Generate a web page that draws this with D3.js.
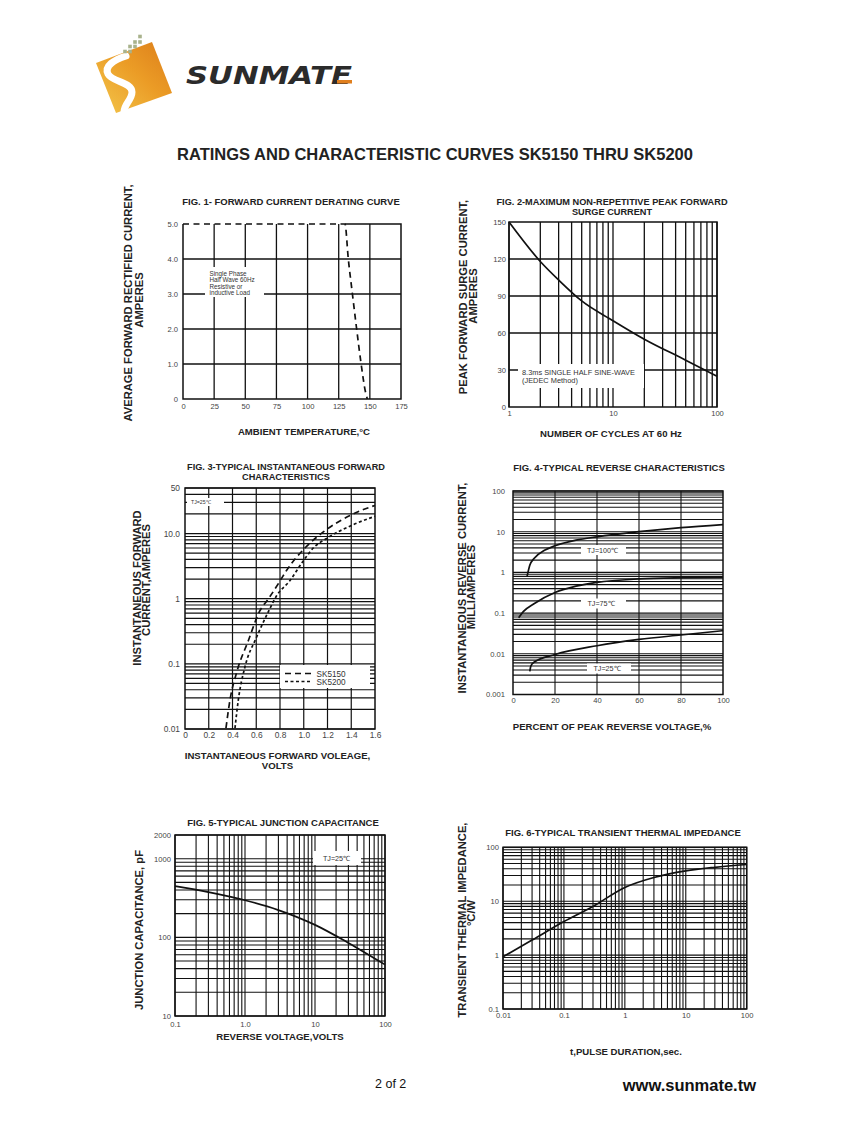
<!DOCTYPE html>
<html>
<head>
<meta charset="utf-8">
<script src="https://cdn.jsdelivr.net/npm/d3@7"></script>
<style>
  body { margin: 0; background: #fff; }
</style>
</head>
<body>
<div id="page"></div>
<script>
// ---- data ----
// Fig 1 derating
const f1Temp = [0, 130, 132.7, 136, 139.4, 143, 146.5, 148];
const f1Amps = [5, 5, 4, 3, 2, 1, 0.2, 0];
const f1XTicks = [0, 25, 50, 75, 100, 125, 150, 175];
const f1YTicks = [0, 1, 2, 3, 4, 5];
const f1YLabels = ['0', '1.0', '2.0', '3.0', '4.0', '5.0'];

// Fig 2 surge current
const f2Cycles = [1, 2, 3, 5, 10, 20, 50, 100];
const f2Amps = [150, 118, 103, 86, 70, 55, 38, 25];
const f2XTicks = [1, 10, 100];
const f2YTicks = [0, 30, 60, 90, 120, 150];

// Fig 3 forward characteristics
const f3V5150 = [0.345, 0.379, 0.435, 0.533, 0.63, 0.70, 0.80, 0.856, 1.01, 1.165, 1.417, 1.6];
const f3I5150 = [0.0103, 0.028, 0.074, 0.226, 0.65, 0.98, 1.87, 2.73, 6.0, 10.6, 20, 27];
const f3V5200 = [0.421, 0.449, 0.505, 0.60, 0.70, 0.77, 0.884, 0.996, 1.08, 1.193, 1.417, 1.6];
const f3I5200 = [0.0103, 0.028, 0.09, 0.25, 0.62, 1.1, 1.9, 3.8, 6.0, 8.4, 13.7, 18.4];
const f3XTicks = [0, 0.2, 0.4, 0.6, 0.8, 1.0, 1.2, 1.4, 1.6];
const f3XLabels = ['0', '0.2', '0.4', '0.6', '0.8', '1.0', '1.2', '1.4', '1.6'];
const f3YTicks = [0.01, 0.1, 1, 10, 50];
const f3YLabels = ['0.01', '0.1', '1', '10.0', '50'];

// Fig 4 reverse characteristics
const f4P100 = [6.7, 8, 10, 15, 20, 30, 40, 60, 80, 100];
const f4I100 = [0.8, 1.5, 2.2, 3.5, 4.5, 6.2, 7.5, 10, 12.6, 15];
const f4P75 = [2.7, 5, 10, 20, 30, 40, 60, 80, 100];
const f4I75 = [0.077, 0.11, 0.17, 0.32, 0.46, 0.57, 0.69, 0.74, 0.76];
const f4P25 = [8, 8.5, 10, 20, 40, 60, 80, 100];
const f4I25 = [0.0037, 0.005, 0.0062, 0.0096, 0.0158, 0.0225, 0.029, 0.037];
const f4XTicks = [0, 20, 40, 60, 80, 100];
const f4YTicks = [0.001, 0.01, 0.1, 1, 10, 100];
const f4YLabels = ['0.001', '0.01', '0.1', '1', '10', '100'];

// Fig 5 junction capacitance
const f5Volts = [0.1, 0.3, 1, 3, 10, 30, 100];
const f5Cap = [447, 376, 296, 222, 144, 85, 45];
const f5XTicks = [0.1, 1, 10, 100];
const f5XLabels = ['0.1', '1.0', '10', '100'];
const f5YTicks = [10, 100, 1000, 2000];

// Fig 6 transient thermal impedance
const f6Time = [0.01, 0.03, 0.1, 0.3, 1, 3, 10, 30, 100];
const f6Z = [0.93, 1.9, 4.2, 8.0, 18, 27.5, 36.5, 42.5, 48];
const f6XTicks = [0.01, 0.1, 1, 10, 100];
const f6XLabels = ['0.01', '0.1', '1', '10', '100'];
const f6YTicks = [0.1, 1, 10, 100];
const f6YLabels = ['0.1', '1', '10', '100'];

const FONT = '"Liberation Sans", Arial, Helvetica, sans-serif';
const INK = '#111';
const TICK = 7.6;
const FIGT = 9.5;
const XT = 9.6;

const svg = d3.select('#page')
  .append('svg')
  .attr('width', 847)
  .attr('height', 1125)
  .style('font-family', FONT)
  .style('display', 'block');

// ---- helpers ----
function grid(g, x, y, xv, yv, w) {
  const [x0, x1] = x.range();
  const [y0, y1] = y.range();
  g.append('g').selectAll('line').data(xv).join('line')
    .attr('x1', d => x(d)).attr('x2', d => x(d))
    .attr('y1', y0).attr('y2', y1)
    .attr('stroke', INK).attr('stroke-width', w);
  g.append('g').selectAll('line').data(yv).join('line')
    .attr('y1', d => y(d)).attr('y2', d => y(d))
    .attr('x1', x0).attr('x2', x1)
    .attr('stroke', INK).attr('stroke-width', w);
}

function frame(g, x, y) {
  const [x0, x1] = x.range();
  const [y0, y1] = y.range();
  g.append('rect')
    .attr('x', x0).attr('y', y1)
    .attr('width', x1 - x0).attr('height', y0 - y1)
    .attr('fill', 'none').attr('stroke', INK).attr('stroke-width', 1.5);
}

function axes(g, x, y, o) {
  const y0 = y.range()[0];
  const x0 = x.range()[0];
  const ax = g.append('g')
    .attr('transform', `translate(0,${y0})`)
    .call(d3.axisBottom(x).tickValues(o.xt).tickFormat((d, i) => o.xl ? o.xl[i] : d).tickSize(0).tickPadding(o.xpad));
  ax.select('.domain').remove();
  ax.attr('font-size', o.fs).attr('font-family', FONT).attr('color', '#444');

  const ay = g.append('g')
    .attr('transform', `translate(${x0},0)`)
    .call(d3.axisLeft(y).tickValues(o.yt).tickFormat((d, i) => o.yl ? o.yl[i] : d).tickSize(0).tickPadding(o.ypad));
  ay.select('.domain').remove();
  ay.attr('font-size', o.fs).attr('font-family', FONT).attr('color', '#444');
}

function curve(g, x, y, xs, ys, dash, w) {
  const pts = xs.map((v, i) => [x(v), y(ys[i])]);
  g.append('path')
    .attr('d', d3.line().curve(d3.curveMonotoneX)(pts))
    .attr('fill', 'none')
    .attr('stroke', INK)
    .attr('stroke-width', w || 1.6)
    .attr('stroke-dasharray', dash || null);
}

function box(g, x, y, w, h) {
  g.append('rect').attr('x', x).attr('y', y).attr('width', w).attr('height', h).attr('fill', '#fff');
}

function label(g, x, y, str, fs, anchor) {
  g.append('text').attr('x', x).attr('y', y)
    .attr('font-size', fs).attr('fill', '#333')
    .attr('text-anchor', anchor || 'start')
    .text(str);
}

function title(x, y, str, fs) {
  svg.append('text').attr('x', x).attr('y', y)
    .attr('text-anchor', 'middle').attr('font-weight', 'bold')
    .attr('font-size', fs || FIGT).attr('fill', '#222')
    .text(str);
}

function vtitle(x, y, str, fs) {
  svg.append('text')
    .attr('transform', `translate(${x},${y}) rotate(-90)`)
    .attr('text-anchor', 'middle').attr('dy', '0.35em')
    .attr('font-weight', 'bold').attr('font-size', fs || 11.2).attr('fill', '#222')
    .text(str);
}

// ---- header ----
const logo = svg.append('g');
const grad = svg.append('defs').append('linearGradient')
  .attr('id', 'lg').attr('x1', 0).attr('y1', 1).attr('x2', 1).attr('y2', 0);
grad.append('stop').attr('offset', 0).attr('stop-color', '#f3c64c');
grad.append('stop').attr('offset', 0.55).attr('stop-color', '#eb9c26');
grad.append('stop').attr('offset', 1).attr('stop-color', '#dc7d1a');
logo.append('polygon').attr('points', '96,63 152,42 172,93 116,113').attr('fill', 'url(#lg)');
logo.append('path')
  .attr('d', 'M126,56 C114,60 104,66 108,74 C112,82 132,82 132,92 C132,100 124,104 124,112')
  .attr('fill', 'none').attr('stroke', '#fff').attr('stroke-width', 7).attr('stroke-linecap', 'round');
[[140, 36.5], [135, 42], [140, 42], [130, 46.5], [135, 46.5], [125, 51.5], [130, 51.5]].forEach(p => {
  logo.append('rect').attr('x', p[0] - 1.8).attr('y', p[1] - 1.8).attr('width', 3.6).attr('height', 3.6).attr('fill', '#a9b28c');
});
logo.append('text')
  .attr('x', 186).attr('y', 83.5)
  .attr('font-family', '"DejaVu Sans", sans-serif')
  .attr('font-weight', 'bold').attr('font-style', 'oblique')
  .attr('font-size', 24).attr('fill', '#2b2b2b')
  .attr('textLength', 166).attr('lengthAdjust', 'spacingAndGlyphs')
  .text('SUNMATE');
logo.append('rect').attr('x', 337).attr('y', 80).attr('width', 15).attr('height', 3.5).attr('fill', '#e07f1e');

title(435, 160, 'RATINGS AND CHARACTERISTIC CURVES SK5150 THRU SK5200', 16.5);

// ---- Fig 1 ----
{
  const g = svg.append('g');
  const x = d3.scaleLinear().domain([0, 175]).range([183, 401]);
  const y = d3.scaleLinear().domain([0, 5]).range([399, 224]);
  grid(g, x, y, [25, 50, 75, 100, 125, 150], [1, 2, 3, 4], 1.3);
  box(g, 205, 267, 59, 30);
  label(g, 209.5, 275.5, 'Single Phase', 6.3);
  label(g, 209.5, 282, 'Half Wave 60Hz', 6.3);
  label(g, 209.5, 288.6, 'Resistive or', 6.3);
  label(g, 209.5, 295.2, 'inductive Load', 6.3);
  // frame without the top run under the dashed curve
  g.append('path')
    .attr('d', `M${x(0)},${y(5)}V${y(0)}H${x(175)}V${y(5)}H${x(130)}`)
    .attr('fill', 'none').attr('stroke', INK).attr('stroke-width', 1.5);
  curve(g, x, y, f1Temp, f1Amps, '6,4.5', 1.7);
  axes(g, x, y, { xt: f1XTicks, yt: f1YTicks, yl: f1YLabels, fs: TICK, xpad: 5, ypad: 5 });
  title(291, 204.5, 'FIG. 1- FORWARD CURRENT DERATING CURVE');
  title(304, 435, 'AMBIENT TEMPERATURE,°C', XT);
  vtitle(128, 303, 'AVERAGE FORWARD RECTIFIED CURRENT,');
  vtitle(139, 300, 'AMPERES');
}

// ---- Fig 2 ----
{
  const g = svg.append('g');
  const x = d3.scaleLog().domain([1, 100]).range([509, 717]);
  const y = d3.scaleLinear().domain([0, 150]).range([407, 222]);
  grid(g, x, y, x.ticks(), [30, 60, 90, 120], 1.3);
  box(g, 518, 364, 126, 24);
  label(g, 522, 374.5, '8.3ms SINGLE HALF SINE-WAVE', 7.4);
  label(g, 522, 383, '(JEDEC Method)', 7.4);
  curve(g, x, y, f2Cycles, f2Amps, null, 1.7);
  frame(g, x, y);
  axes(g, x, y, { xt: f2XTicks, yt: f2YTicks, fs: TICK, xpad: 4, ypad: 3 });
  title(612, 204.5, 'FIG. 2-MAXIMUM NON-REPETITIVE PEAK FORWARD', 9.2);
  title(612, 214.5, 'SURGE CURRENT', 9.2);
  title(611, 436.5, 'NUMBER OF CYCLES AT 60 Hz', XT);
  vtitle(463, 297, 'PEAK  FORWARD SURGE CURRENT,');
  vtitle(473, 296, 'AMPERES');
}

// ---- Fig 3 ----
{
  const g = svg.append('g');
  const x = d3.scaleLinear().domain([0, 1.6]).range([185, 375]);
  const y = d3.scaleLog().domain([0.01, 50]).range([729, 488]);
  grid(g, x, y, [0.2, 0.4, 0.6, 0.8, 1.0, 1.2, 1.4], y.ticks(), 1.2);
  box(g, 187, 498, 37, 8);
  label(g, 191, 504.2, 'TJ=25℃', 5.2);
  box(g, 280, 665, 90, 23);
  g.append('line').attr('x1', 285).attr('x2', 312).attr('y1', 673.5).attr('y2', 673.5)
    .attr('stroke', INK).attr('stroke-width', 1.4).attr('stroke-dasharray', '6,4');
  g.append('line').attr('x1', 285).attr('x2', 312).attr('y1', 681.5).attr('y2', 681.5)
    .attr('stroke', INK).attr('stroke-width', 1.4).attr('stroke-dasharray', '3,2.5');
  label(g, 316.5, 676.5, 'SK5150', 8.2);
  label(g, 316.5, 684.7, 'SK5200', 8.2);
  curve(g, x, y, f3V5150, f3I5150, '6,4', 1.7);
  curve(g, x, y, f3V5200, f3I5200, '3,2.5', 1.7);
  frame(g, x, y);
  axes(g, x, y, { xt: f3XTicks, xl: f3XLabels, yt: f3YTicks, yl: f3YLabels, fs: 8.4, xpad: 3, ypad: 5 });
  title(286, 470, 'FIG. 3-TYPICAL INSTANTANEOUS FORWARD', 9.2);
  title(286, 480, 'CHARACTERISTICS', 9.2);
  title(277.5, 758.5, 'INSTANTANEOUS FORWARD VOLEAGE,', XT);
  title(277.5, 768.5, 'VOLTS', XT);
  vtitle(137, 588, 'INSTANTANEOUS FORWARD');
  vtitle(146.5, 580, 'CURRENT,AMPERES');
}

// ---- Fig 4 ----
{
  const g = svg.append('g');
  const x = d3.scaleLinear().domain([0, 100]).range([513, 723]);
  const y = d3.scaleLog().domain([0.001, 100]).range([694.5, 491]);
  grid(g, x, y, [20, 40, 60, 80], y.ticks(), 1.1);
  box(g, 581, 545, 45, 10);
  box(g, 581, 598.5, 45, 10);
  box(g, 587, 663.5, 44, 10);
  label(g, 602.5, 552.6, 'TJ=100℃', 7.2, 'middle');
  label(g, 601, 605.9, 'TJ=75℃', 7.2, 'middle');
  label(g, 607, 670.9, 'TJ=25℃', 7.2, 'middle');
  curve(g, x, y, f4P100, f4I100, null, 1.7);
  curve(g, x, y, f4P75, f4I75, null, 1.7);
  curve(g, x, y, f4P25, f4I25, null, 1.7);
  frame(g, x, y);
  axes(g, x, y, { xt: f4XTicks, yt: f4YTicks, yl: f4YLabels, fs: TICK, xpad: 3.5, ypad: 8 });
  title(619, 471, 'FIG. 4-TYPICAL REVERSE CHARACTERISTICS');
  title(612, 730, 'PERCENT OF PEAK REVERSE VOLTAGE,%', XT);
  vtitle(462, 588, 'INSTANTANEOUS REVERSE CURRENT,');
  vtitle(471, 587, 'MILLIAMPERES');
}

// ---- Fig 5 ----
{
  const g = svg.append('g');
  const x = d3.scaleLog().domain([0.1, 100]).range([175, 385]);
  const y = d3.scaleLog().domain([10, 2000]).range([1016, 835]);
  grid(g, x, y, x.ticks(), y.ticks(), 1.1);
  box(g, 313, 851, 48, 14);
  label(g, 336.5, 860.8, 'TJ=25℃', 7.2, 'middle');
  curve(g, x, y, f5Volts, f5Cap, null, 1.7);
  frame(g, x, y);
  axes(g, x, y, { xt: f5XTicks, xl: f5XLabels, yt: f5YTicks, fs: TICK, xpad: 6, ypad: 4 });
  title(283, 826, 'FIG. 5-TYPICAL JUNCTION CAPACITANCE');
  title(280, 1040, 'REVERSE VOLTAGE,VOLTS', XT);
  vtitle(139, 930, 'JUNCTION CAPACITANCE, pF');
}

// ---- Fig 6 ----
{
  const g = svg.append('g');
  const x = d3.scaleLog().domain([0.01, 100]).range([503, 746.7]);
  const y = d3.scaleLog().domain([0.1, 100]).range([1009, 847.3]);
  grid(g, x, y, x.ticks(), y.ticks(), 1.1);
  curve(g, x, y, f6Time, f6Z, null, 1.7);
  frame(g, x, y);
  axes(g, x, y, { xt: f6XTicks, xl: f6XLabels, yt: f6YTicks, yl: f6YLabels, fs: TICK, xpad: 4, ypad: 4 });
  title(623, 836, 'FIG. 6-TYPICAL TRANSIENT THERMAL IMPEDANCE');
  title(626, 1055, 't,PULSE DURATION,sec.', XT);
  vtitle(462, 920, 'TRANSIENT THERMAL IMPEDANCE,');
  vtitle(471.5, 913, '°C/W');
}

// ---- footer ----
svg.append('text').attr('x', 375).attr('y', 1087.5)
  .attr('font-size', 12.5).attr('fill', '#111').text('2 of 2');
svg.append('text').attr('x', 756).attr('y', 1090.5)
  .attr('text-anchor', 'end').attr('font-weight', 'bold')
  .attr('font-size', 16.5).attr('fill', '#111').text('www.sunmate.tw');
</script>
</body>
</html>
